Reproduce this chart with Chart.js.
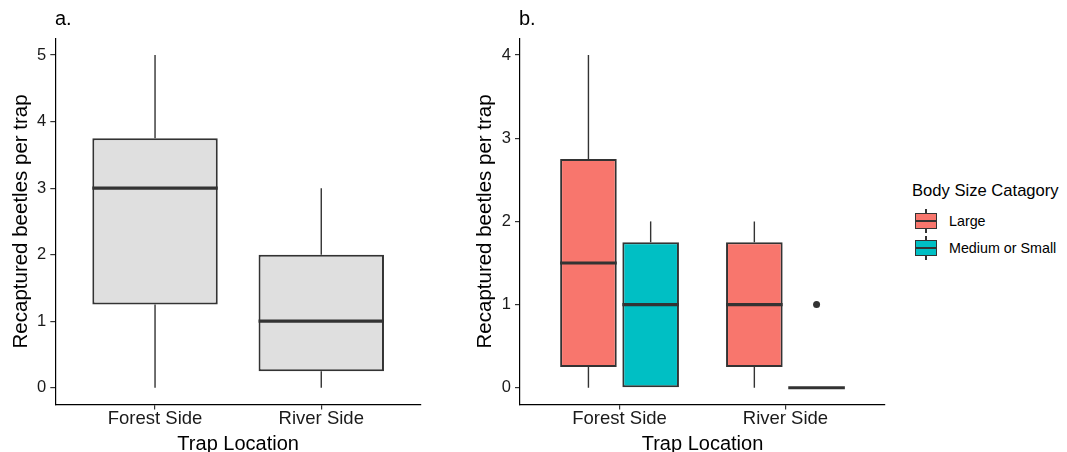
<!DOCTYPE html>
<html><head><meta charset="utf-8">
<script src="https://cdn.jsdelivr.net/npm/chart.js@4.4.1/dist/chart.umd.min.js"></script>
<style>
html,body{margin:0;padding:0;background:#fff;overflow:hidden;}
body{width:1067px;height:452px;position:relative;font-family:"Liberation Sans",Arial,sans-serif;color:#000;}
.wrap{position:absolute;top:0;height:452px;width:440px;}
#wa{left:0;}
#wb{left:460px;}
.tag{position:absolute;font-size:20px;line-height:20px;top:8px;}
.ltitle{position:absolute;left:912px;top:183px;font-size:16.6px;line-height:16.6px;white-space:nowrap;}
.llab{position:absolute;left:949px;font-size:14.3px;line-height:14.3px;white-space:nowrap;}
.key{position:absolute;left:915px;width:22px;height:24px;}
.key .wh{position:absolute;left:10.3px;top:0;width:1.4px;height:24px;background:#333;}
.key .bx{position:absolute;left:0;top:4px;width:22px;height:16px;border:1.6px solid #333;box-sizing:border-box;}
.key .md{position:absolute;left:0;top:11px;width:22px;height:2px;background:#333;}
</style></head>
<body>
<div class="wrap" id="wa"><canvas id="ca" width="440" height="452"></canvas></div>
<div class="wrap" id="wb"><canvas id="cb" width="440" height="452"></canvas></div>
<div class="tag" style="left:55px">a.</div>
<div class="tag" style="left:519px">b.</div>
<div class="ltitle">Body Size Catagory</div>
<div class="key" style="top:209px"><div class="wh"></div><div class="bx" style="background:#F8766D"></div><div class="md"></div></div>
<div class="key" style="top:236px"><div class="wh"></div><div class="bx" style="background:#00BFC4"></div><div class="md"></div></div>
<div class="llab" style="top:214px">Large</div>
<div class="llab" style="top:241px">Medium or Small</div>
<script>
// ---- data ----
const categories = ['Forest Side', 'River Side'];
const yTicksA = [0, 1, 2, 3, 4, 5];
const yTicksB = [0, 1, 2, 3, 4];

// panel a: all beetles
const allMin = [0, 0];
const allQ1 = [1.25, 0.25];
const allMedian = [3, 1];
const allQ3 = [3.75, 2];
const allMax = [5, 3];
const allOutliers = [[], []];

// panel b: by body size
const sizeGroups = ['Large', 'Medium or Small'];
const largeMin = [0, 0];
const largeQ1 = [0.25, 0.25];
const largeMedian = [1.5, 1];
const largeQ3 = [2.75, 1.75];
const largeMax = [4, 2];
const largeOutliers = [[], []];

const smallMin = [0, 0];
const smallQ1 = [0, 0];
const smallMedian = [1, 0];
const smallQ3 = [1.75, 0];
const smallMax = [2, 0];
const smallOutliers = [[], [1]];

// ---- helpers ----
Chart.defaults.font.family = '"Liberation Sans", Arial, sans-serif';
const INK = '#333333';

function boxDataset(label, q1, q3, mn, md, mx, outl, fill, barPct) {
  return {
    label: label,
    data: categories.map((c, i) => ({ x: i + 1, y: [q1[i], q3[i]] })),
    boxMin: mn, boxMedian: md, boxMax: mx, boxOutliers: outl,
    backgroundColor: fill,
    borderColor: INK,
    borderWidth: 2,
    borderSkipped: false,
    categoryPercentage: 0.75,
    barPercentage: barPct
  };
}

const boxPlugin = {
  id: 'boxParts',
  beforeDatasetsDraw(chart) {
    const ctx = chart.ctx, ys = chart.scales.y;
    ctx.save();
    ctx.strokeStyle = INK; ctx.lineWidth = 1.4;
    chart.data.datasets.forEach((ds, di) => {
      const meta = chart.getDatasetMeta(di);
      meta.data.forEach((el, i) => {
        const q1 = ds.data[i].y[0], q3 = ds.data[i].y[1];
        ctx.beginPath();
        ctx.moveTo(el.x, ys.getPixelForValue(ds.boxMin[i]));
        ctx.lineTo(el.x, ys.getPixelForValue(q1));
        ctx.moveTo(el.x, ys.getPixelForValue(q3));
        ctx.lineTo(el.x, ys.getPixelForValue(ds.boxMax[i]));
        ctx.stroke();
      });
    });
    ctx.restore();
  },
  afterDatasetsDraw(chart) {
    const ctx = chart.ctx, ys = chart.scales.y;
    ctx.save();
    chart.data.datasets.forEach((ds, di) => {
      const meta = chart.getDatasetMeta(di);
      meta.data.forEach((el, i) => {
        const yMed = ys.getPixelForValue(ds.boxMedian[i]);
        ctx.strokeStyle = INK; ctx.lineWidth = 3.2;
        ctx.beginPath();
        ctx.moveTo(el.x - el.width / 2, yMed);
        ctx.lineTo(el.x + el.width / 2, yMed);
        ctx.stroke();
        ctx.fillStyle = INK;
        ds.boxOutliers[i].forEach(v => {
          ctx.beginPath();
          ctx.arc(el.x, ys.getPixelForValue(v), 3.5, 0, Math.PI * 2);
          ctx.fill();
        });
      });
    });
    ctx.restore();
  }
};

function makeChart(id, datasets, yMin, yMax, yTicks, yAxisWidth, padRight, yTitlePad) {
  return new Chart(document.getElementById(id), {
    type: 'bar',
    data: { datasets: datasets },
    plugins: [boxPlugin],
    options: {
      responsive: false,
      animation: false,
      events: [],
      layout: { padding: { top: 38.4, right: padRight, bottom: 0, left: 0 } },
      plugins: { legend: { display: false }, tooltip: { enabled: false } },
      scales: {
        x: {
          type: 'linear', min: 0.4, max: 2.6, offset: false,
          afterBuildTicks: s => { s.ticks = categories.map((c, i) => ({ value: i + 1 })); },
          afterFit: s => { s.height = 47.6; },
          ticks: { autoSkip: false, maxRotation: 0, minRotation: 0, color: '#1a1a1a',
                   font: { size: 18.5, lineHeight: 1 }, padding: 0.5,
                   callback: (v, i) => categories[i] },
          grid: { drawOnChartArea: false, offset: false, tickLength: 5, color: INK, lineWidth: 1.2 },
          border: { display: true, color: '#000', width: 1.2 },
          title: { display: true, text: 'Trap Location', color: '#000',
                   font: { size: 20, lineHeight: 1 }, padding: { top: 0, bottom: -2 } }
        },
        y: {
          type: 'linear', min: yMin, max: yMax,
          afterBuildTicks: s => { s.ticks = yTicks.map(v => ({ value: v })); },
          afterFit: s => { s.width = yAxisWidth; },
          ticks: { color: '#1a1a1a', font: { size: 16.5 }, padding: 4, callback: v => String(v) },
          grid: { drawOnChartArea: false, tickLength: 5, color: INK, lineWidth: 1.2 },
          border: { display: true, color: '#000', width: 1.2 },
          title: { display: true, text: 'Recaptured beetles per trap', color: '#000',
                   font: { size: 20.5, lineHeight: 1 }, padding: { top: yTitlePad, bottom: 0 } }
        }
      }
    }
  });
}

makeChart('ca',
  [boxDataset('All', allQ1, allQ3, allMin, allMedian, allMax, allOutliers, '#DFDFDF', 1.006)],
  -0.25, 5.25, yTicksA, 55.3, 19, 11.2);

makeChart('cb',
  [boxDataset(sizeGroups[0], largeQ1, largeQ3, largeMin, largeMedian, largeMax, largeOutliers, '#F8766D', 0.91),
   boxDataset(sizeGroups[1], smallQ1, smallQ3, smallMin, smallMedian, smallMax, smallOutliers, '#00BFC4', 0.91)],
  -0.2, 4.2, yTicksB, 60, 15, 15.2);
</script>
</body></html>
